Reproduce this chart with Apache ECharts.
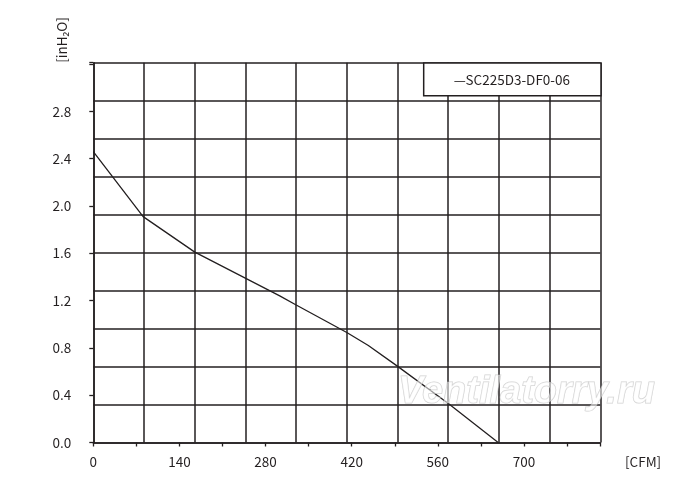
<!DOCTYPE html>
<html><head><meta charset="utf-8">
<script src="https://cdn.jsdelivr.net/npm/echarts@6/dist/echarts.min.js"></script>
<style>html,body{margin:0;padding:0;background:#fff}#c{width:700px;height:490px}</style>
</head><body><div id="c"></div>
<script>
// Data (CFM vs inH2O)
var seriesName = 'SC225D3-DF0-06';
var flowCFM = [0, 81, 165, 247, 303, 329, 412, 447, 493, 577, 658];
var pressureInH2O = [2.46, 1.91, 1.61, 1.39, 1.24, 1.165, 0.93, 0.82, 0.65, 0.33, 0];
var xLabelTicks = [0, 140, 280, 420, 560, 700];
var yLabelTicks = [0.0, 0.4, 0.8, 1.2, 1.6, 2.0, 2.4, 2.8];
var xMax = 824, yMax = 3.2117;

var ink = '#231f20';
var font = '"Noto Sans CJK SC", "Noto Sans", sans-serif';
var fs = 13.5;
var chart = echarts.init(document.getElementById('c'));
var pts = flowCFM.map(function (x, i) { return [x, pressureInH2O[i]]; });

chart.setOption({
  animation: false,
  backgroundColor: '#fff',
  grid: { left: 93.3, right: 99.7, top: 62.7, bottom: 47.5, containLabel: false },
  legend: {
    data: [{ name: seriesName, icon: 'none' }],
    formatter: '—{name}',
    right: 99, top: 63,
    itemWidth: 0, itemHeight: 14,
    padding: [9.5, 31, 9.5, 25],
    backgroundColor: '#fff',
    borderColor: ink, borderWidth: 1.5,
    textStyle: { fontFamily: font, fontSize: fs, color: ink },
    z: 10
  },
  xAxis: [{
    type: 'value', min: 0, max: xMax, interval: 70,
    axisLine: { show: true, lineStyle: { color: ink, width: 1.5 } },
    axisTick: { show: true, inside: false, length: 4, lineStyle: { color: ink, width: 1.3 } },
    splitLine: { show: false },
    axisLabel: {
      margin: 13, fontFamily: font, fontSize: fs, color: ink,
      formatter: function (v) { return xLabelTicks.indexOf(Math.round(v)) >= 0 && Math.abs(v - Math.round(v)) < 1e-6 ? String(Math.round(v)) : ''; }
    }
  }, {
    type: 'value', min: 0, max: xMax, interval: xMax / 10, position: 'bottom',
    axisLine: { show: false }, axisTick: { show: false }, axisLabel: { show: false },
    splitLine: { show: true, lineStyle: { color: ink, width: 1.5 } }
  }],
  yAxis: [{
    type: 'value', min: 0, max: yMax, interval: 0.4,
    axisLine: { show: true, lineStyle: { color: ink, width: 1.5 } },
    axisTick: { show: true, inside: false, length: 4, lineStyle: { color: ink, width: 1.3 } },
    splitLine: { show: false },
    axisLabel: {
      margin: 22, fontFamily: font, fontSize: fs, color: ink,
      formatter: function (v) {
        for (var i = 0; i < yLabelTicks.length; i++) if (Math.abs(v - yLabelTicks[i]) < 1e-6) return yLabelTicks[i].toFixed(1);
        return '';
      }
    }
  }, {
    type: 'value', min: 0, max: yMax, interval: yMax / 10, position: 'left',
    axisLine: { show: false }, axisTick: { show: false }, axisLabel: { show: false },
    splitLine: { show: true, lineStyle: { color: ink, width: 1.5 } }
  }],
  series: [{
    name: seriesName, type: 'line', xAxisIndex: 0, yAxisIndex: 0,
    data: pts, showSymbol: false, symbol: 'none', smooth: false,
    lineStyle: { color: ink, width: 1.3 }, itemStyle: { color: ink }, z: 5
  }],
  graphic: [
    { type: 'text', x: 62, y: 40, rotation: Math.PI / 2,
      style: { text: '[inH₂O]', fontFamily: font, fontSize: fs, fill: ink, textAlign: 'center', textVerticalAlign: 'middle' } },
    { type: 'text', x: 625, y: 462,
      style: { text: '[CFM]', fontFamily: font, fontSize: fs, fill: ink, textAlign: 'left', textVerticalAlign: 'middle' } },
    { type: 'text', x: 398, y: 374, z: 20,
      style: { text: 'Ventilatorry.ru', fontFamily: '"Liberation Sans", Arial, sans-serif', fontStyle: 'italic', fontWeight: 'bold', fontSize: 38,
        fill: 'rgba(255,255,255,0.55)', stroke: 'rgba(170,170,170,0.55)', lineWidth: 1, textAlign: 'left', textVerticalAlign: 'top' } }
  ]
});
</script></body></html>
